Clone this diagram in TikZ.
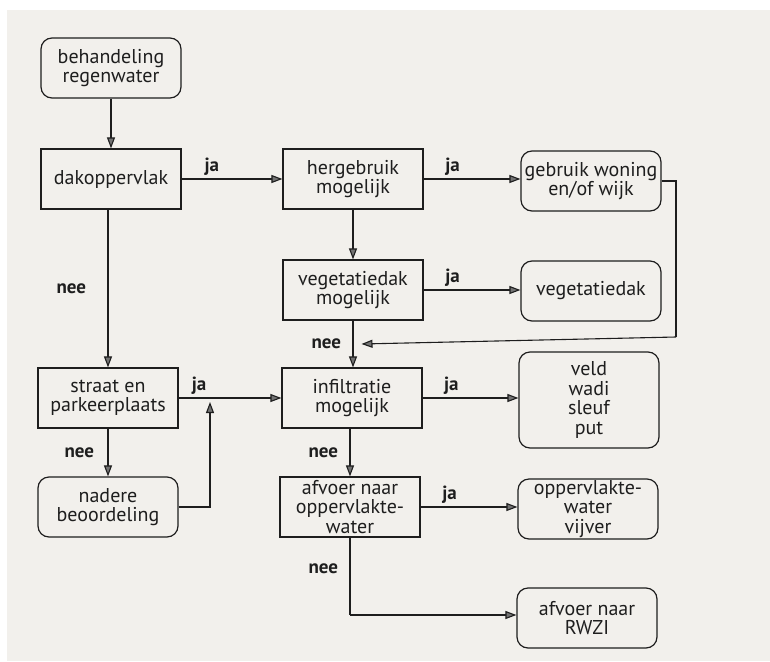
\documentclass[tikz,border=0pt]{standalone}
\usepackage{fontspec}
\setmainfont{PT Sans}
\usetikzlibrary{calc, arrows.meta}
\definecolor{paper}{RGB}{242,240,236}
\definecolor{ink}{RGB}{30,30,30}

\begin{document}
\begin{tikzpicture}[x=1pt,y=-1pt,
                    box/.style={draw=ink,line width=1.2pt,minimum width=140pt,minimum height=60pt,align=center,
                                inner xsep=1pt,inner ysep=0pt,font=\fontsize{20}{19.5}\selectfont,text=ink},
                    rbox/.style={box,rounded corners=11pt},
                    lbl/.style={font=\fontsize{19}{20}\selectfont\bfseries,text=ink},
                    arr/.style={draw=ink,line width=1.1pt,-{Triangle[length=11pt,width=8pt,fill=black!55]}},
                    lin/.style={draw=ink,line width=1.1pt}]
                \useasboundingbox (0,0) rectangle (770,661);
                \fill[white] (0,0) rectangle (770,661);
                \fill[paper] (7,10) rectangle (770,661);
                % left column
                \node[rbox] (beh) at (111,68) {behandeling\\regenwater};
                \node[box] (dak) at (111,179) {dakoppervlak};
                \node[box] (straat) at (108,398) {straat en\\parkeerplaats};
                \node[rbox] (nader) at (108,507) {nadere\\beoordeling};
                % middle column
                \node[box] (herg) at (353,179) {hergebruik\\mogelijk};
                \node[box] (vegm) at (353,290) {vegetatiedak\\mogelijk};
                \node[box] (infil) at (352,398) {infiltratie\\mogelijk};
                \node[box] (afv) at (350,507) {afvoer naar\\oppervlakte-\\water};
                % right column
                \node[rbox] (gebr) at (591,181) {gebruik woning\\en/of wijk};
                \node[rbox] (veg) at (591,291) {vegetatiedak};
                \node[rbox,minimum height=96pt] (veld) at (589,400) {veld\\wadi\\sleuf\\put};
                \node[rbox] (opp) at (588,509) {oppervlakte-\\water\\vijver};
                \node[rbox] (rwzi) at (587,618) {afvoer naar\\RWZI};
                % connectors
                \coordinate (terug) at (676,337);
                \coordinate (samen) at (210,398);
                \coordinate (knik) at (afv.south |- 0,615);
                \draw[arr] (beh) -- (dak);
                \draw[arr] (dak) -- node[lbl,above,pos=0.3] {ja} (herg);
                \draw[arr] (herg) -- node[lbl,above,pos=0.3] {ja} (gebr.west |- herg.east);
                \draw[arr] (herg) -- (vegm);
                \draw[arr] (vegm) -- node[lbl,above,pos=0.3] {ja} (veg.west |- vegm.east);
                \draw[arr] (vegm) -- node[lbl,left=8pt,pos=0.5] {nee} (infil.north -| vegm.south);
                \draw[lin] (gebr.east) -| (terug);
                \draw[arr] (terug) -- ($(vegm.south)!0.5!(infil.north)+(9,0)$);
                \draw[arr] (dak.south -| straat.north) -- node[lbl,left=18pt] {nee} (straat);
                \draw[arr] (straat) -- node[lbl,above,pos=0.2] {ja} (infil);
                \draw[arr] (straat) -- node[lbl,left=10pt] {nee} (nader);
                \draw[arr] (nader.east) -| ($(samen)+(0,4)$);
                \draw[arr] (infil.east) -- node[lbl,above,pos=0.3] {ja} (veld.west |- infil.east);
                \draw[arr] (infil.south -| afv.north) -- node[lbl,left=8pt] {nee} (afv);
                \draw[arr] (afv) -- node[lbl,above,pos=0.3] {ja} (opp.west |- afv.east);
                \draw[lin] (afv.south) -- node[lbl,left=8pt,pos=0.4] {nee} (knik);
                \draw[arr] (knik) -- (rwzi.west |- knik);
\end{tikzpicture}
\end{document}
